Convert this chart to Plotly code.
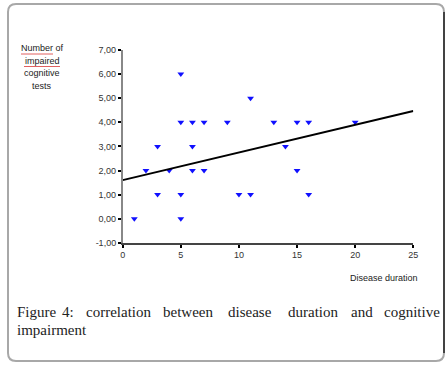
import plotly.graph_objects as go

# Data
duration = [1, 2, 3, 3, 4, 5, 5, 5, 5, 6, 6, 6, 7, 7, 9, 10, 11, 11, 13, 14, 15, 15, 16, 16, 20]
impaired = [0, 2, 3, 1, 2, 4, 1, 0, 6, 4, 3, 2, 4, 2, 4, 1, 1, 5, 4, 3, 4, 2, 4, 1, 4]
fit_x = [0, 25]
fit_y = [1.6, 4.47]
y_ticks = [-1, 0, 1, 2, 3, 4, 5, 6, 7]
y_ticktext = ["-1,00", "0,00", "1,00", "2,00", "3,00", "4,00", "5,00", "6,00", "7,00"]
x_ticks = [0, 5, 10, 15, 20, 25]
caption_words = ["Figure", "4:", "correlation", "between", "disease", "duration", "and", "cognitive"]

W, H = 447, 367

def px(x):
    return x / W

def py(y):
    return 1 - y / H

fig = go.Figure()
fig.add_trace(go.Scatter(x=duration, y=impaired, mode="markers",
                         marker=dict(symbol="triangle-down", size=6, color="#1010ff",
                                     line=dict(width=0)),
                         showlegend=False, hoverinfo="x+y"))
fig.add_trace(go.Scatter(x=fit_x, y=fit_y, mode="lines",
                         line=dict(color="black", width=2), showlegend=False))

axfont = dict(family="Liberation Sans, Arial", size=9, color="#333")
fig.update_layout(
    width=W, height=H,
    margin=dict(l=0, r=0, t=0, b=0),
    paper_bgcolor="white", plot_bgcolor="white",
    xaxis=dict(domain=[px(122.7), px(413.3)], range=[0, 25], tickvals=x_ticks,
               showgrid=False, zeroline=False, showline=True, linecolor="#444", linewidth=1.5,
               ticks="outside", ticklen=3, tickwidth=2, tickcolor="black",
               tickfont=axfont, automargin=False, fixedrange=True),
    yaxis=dict(domain=[py(242.8), py(50)], range=[-1, 7], tickvals=y_ticks, ticktext=y_ticktext,
               showgrid=False, zeroline=False, showline=True, linecolor="#888", linewidth=1.5,
               ticks="outside", ticklen=3, tickwidth=2, tickcolor="black",
               tickfont=axfont, automargin=False, fixedrange=True),
    font=dict(family="Liberation Sans, Arial"),
)

# Border box
r = 8
x0, x1, y0, y1 = 8, 444, 4, 361
path = (f"M {px(x0+r)} {py(y0)} L {px(x1-r)} {py(y0)} "
        f"Q {px(x1)} {py(y0)} {px(x1)} {py(y0+r)} L {px(x1)} {py(y1-r)} "
        f"Q {px(x1)} {py(y1)} {px(x1-r)} {py(y1)} L {px(x0+r)} {py(y1)} "
        f"Q {px(x0)} {py(y1)} {px(x0)} {py(y1-r)} L {px(x0)} {py(y0+r)} "
        f"Q {px(x0)} {py(y0)} {px(x0+r)} {py(y0)} Z")
fig.add_shape(type="path", path=path, xref="paper", yref="paper",
              line=dict(color="#a8a8a8", width=2))
fig.add_shape(type="line", xref="paper", yref="paper", x0=px(x1), x1=px(x1),
              y0=py(y0+r), y1=py(y1-r), line=dict(color="#222", width=1.5))

# Y title
ytitle = ["Number of", "impaired", "cognitive", "tests"]
for i, t in enumerate(ytitle):
    fig.add_annotation(text=t, x=px(42), y=py(48 + i * 12.5), xref="paper", yref="paper",
                       showarrow=False, xanchor="center", yanchor="middle",
                       font=dict(family="Liberation Sans, Arial", size=9, color="#222"))
# spell-check underlines
fig.add_shape(type="line", xref="paper", yref="paper", x0=px(21), x1=px(53), y0=py(54), y1=py(54),
              line=dict(color="#e06060", width=1))
fig.add_shape(type="line", xref="paper", yref="paper", x0=px(24), x1=px(60), y0=py(66.5), y1=py(66.5),
              line=dict(color="#e06060", width=1))

# X title
fig.add_annotation(text="Disease duration", x=px(384), y=py(278), xref="paper", yref="paper",
                   showarrow=False, xanchor="center", yanchor="middle",
                   font=dict(family="Liberation Sans, Arial", size=9, color="#222"))

# Caption (justified first line)
word_pos = [(15, "left"), (68, "center"), (118, "center"), (188, "center"),
            (250, "center"), (313, "center"), (362, "center"), (442, "right")]
capfont = dict(family="Liberation Serif, serif", size=15, color="#222")
for w, (xx, anc) in zip(caption_words, word_pos):
    fig.add_annotation(text=w, x=px(xx), y=py(312), xref="paper", yref="paper",
                       showarrow=False, xanchor=anc, yanchor="middle", font=capfont)
fig.add_annotation(text="impairment", x=px(15), y=py(330), xref="paper", yref="paper",
                   showarrow=False, xanchor="left", yanchor="middle", font=capfont)

fig.write_html("out.html", config={"displayModeBar": False},
               post_script="document.body.style.margin='0px';document.body.style.overflow='hidden';")
